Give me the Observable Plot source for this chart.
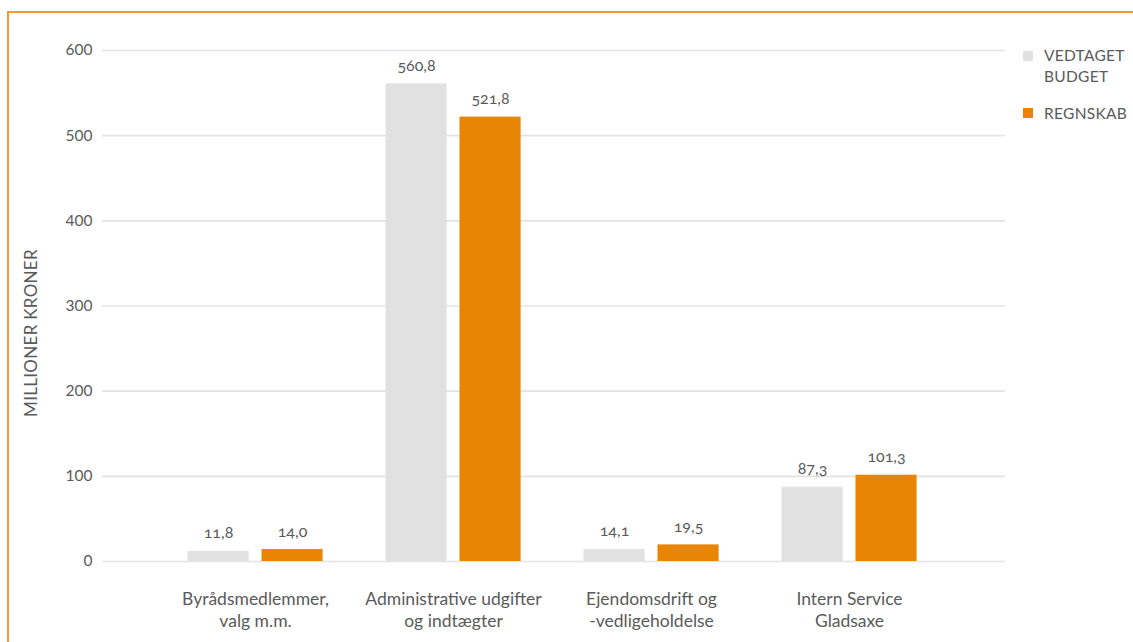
<!DOCTYPE html>
<html>
<head>
<meta charset="utf-8">
<script src="https://cdn.jsdelivr.net/npm/d3@7"></script>
<script src="https://cdn.jsdelivr.net/npm/@observablehq/plot@0.6"></script>
<style>
  html, body { margin: 0; padding: 0; background: #fff; overflow: hidden; width: 1133px; height: 642px; }
  #wrap { position: relative; width: 1133px; height: 642px; overflow: hidden; font-family: Lato, "Open Sans", sans-serif; font-variant-numeric: oldstyle-nums; }
  #frame { position: absolute; z-index: 5; pointer-events: none; left: 7px; top: 11px; width: 1200px; height: 700px; border-left: 2px solid #f09a30; border-top: 2px solid #f09a30; box-sizing: border-box; }
  #chart { position: absolute; left: 0; top: 0; }
  .leg { position: absolute; color: #5a5a5a; font-size: 15.5px; line-height: 21px; letter-spacing: 0.3px; }
  .sw { position: absolute; width: 10px; height: 10px; }
  #ylab { position: absolute; left: 30px; top: 333px; transform: translate(-50%, -50%) rotate(-90deg); white-space: nowrap; color: #5a5a5a; font-size: 17px; letter-spacing: 0.3px; }
</style>
</head>
<body>
<div id="wrap">
  <div id="chart"></div>
  <div id="frame"></div>
  <div id="ylab"></div>
  <div class="sw" style="left:1023px; top:51px; background:#e1e1e1"></div>
  <div class="leg" style="left:1044px; top:45px">VEDTAGET<br>BUDGET</div>
  <div class="sw" style="left:1023px; top:108px; background:#e88502"></div>
  <div class="leg" style="left:1044px; top:103px">REGNSKAB</div>
</div>
<script>
const categories = ["Byrådsmedlemmer,\nvalg m.m.", "Administrative udgifter\nog indtægter", "Ejendomsdrift og\n-vedligeholdelse", "Intern Service\nGladsaxe"];
const budget = [11.8, 560.8, 14.1, 87.3];
const regnskab = [14.0, 521.8, 19.5, 101.3];
const yTicks = [0, 100, 200, 300, 400, 500, 600];
const yLabel = "MILLIONER KRONER";

document.getElementById("ylab").textContent = yLabel;

const budgetRows = categories.map((c, i) => ({cat: c, v: budget[i]}));
const regnRows = categories.map((c, i) => ({cat: c, v: regnskab[i]}));
const fmt = d => d.toFixed(1).replace(".", ",");
const txt = "#5a5a5a";

const chart = Plot.plot({
  width: 1133,
  height: 642,
  marginLeft: 102,
  marginRight: 128,
  marginTop: 50,
  marginBottom: 81,
  style: {fontFamily: "Lato, 'Open Sans', sans-serif", fontSize: "14px", color: txt, background: "transparent", fontVariantNumeric: "oldstyle-nums"},
  x: {type: "band", domain: categories, padding: 0, insetLeft: 52.5, insetRight: 55},
  y: {domain: [0, 600]},
  marks: [
    Plot.ruleY(yTicks, {stroke: "#e3e3e3", strokeWidth: 1.6}),
    Plot.barY(budgetRows, {x: "cat", y: "v", fill: "#e1e1e1", insetLeft: 31.5, insetRight: 105.4}),
    Plot.barY(regnRows, {x: "cat", y: "v", fill: "#e88502", insetLeft: 105.5, insetRight: 31.4}),
    Plot.text(budgetRows, {x: "cat", y: "v", text: d => fmt(d.v), dx: -37, dy: -13, lineAnchor: "bottom", fill: txt, fontSize: 16}),
    Plot.text(regnRows, {x: "cat", y: "v", text: d => fmt(d.v), dx: 37, dy: -13, lineAnchor: "bottom", fill: txt, fontSize: 16}),
    Plot.axisY({ticks: yTicks, tickSize: 0, tickPadding: 10, label: null, fontSize: 15.5, fill: txt}),
    Plot.axisX({tickSize: 0, tickPadding: 27, label: null, fontSize: 17.5, lineHeight: 1.3, fill: txt})
  ]
});
document.getElementById("chart").appendChild(chart);
</script>
</body>
</html>
